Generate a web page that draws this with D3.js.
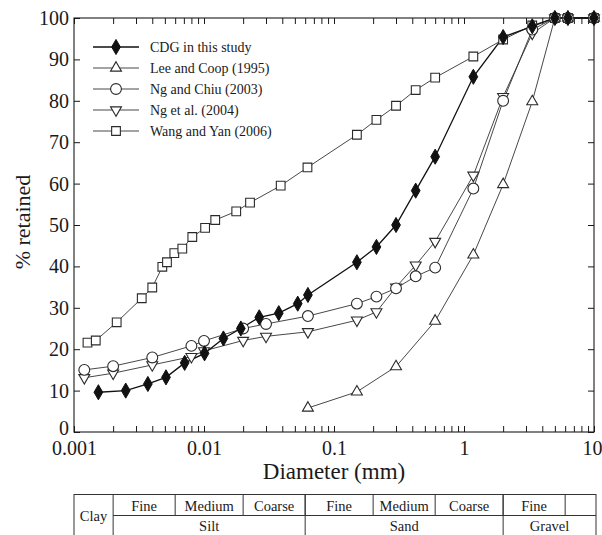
<!DOCTYPE html>
<html>
<head>
<meta charset="utf-8">
<script src="https://cdn.jsdelivr.net/npm/d3@7"></script>
<style>
  html, body { margin: 0; padding: 0; background: #fff; }
  svg { display: block; }
  svg text { font-family: "Liberation Serif", "DejaVu Serif", serif; }
</style>
</head>
<body>
<svg id="chart" width="602" height="535" font-family="Liberation Serif, serif"></svg>
<script>
// Particle size distribution curves (diameter in mm, % retained)
const cdgD = [0.00154, 0.0025, 0.0037, 0.0051, 0.0071, 0.0101, 0.0141, 0.0192, 0.0266, 0.0376, 0.0526, 0.063, 0.15, 0.212, 0.3, 0.425, 0.6, 1.18, 2, 3.35, 5, 6.3, 10];
const cdgV = [9.6, 10, 11.6, 13.2, 16.7, 19, 22.6, 25, 27.7, 28.7, 31, 33.1, 41, 44.7, 50, 58.3, 66.5, 85.8, 95.4, 98, 100, 100, 100];

const leeD = [0.063, 0.15, 0.3, 0.6, 1.18, 2, 3.35, 5, 6.3, 10];
const leeV = [5.8, 9.7, 15.8, 26.8, 42.8, 59.8, 79.8, 100, 100, 100];

const chiuD = [0.0012, 0.002, 0.004, 0.008, 0.01, 0.02, 0.03, 0.063, 0.15, 0.212, 0.3, 0.425, 0.6, 1.18, 2, 3.35, 5, 6.3, 10];
const chiuV = [15, 15.9, 18, 20.8, 22, 25, 26.1, 28, 31, 32.7, 34.7, 37.6, 39.7, 58.8, 80, 97.2, 100, 100, 100];

const ngD = [0.0012, 0.002, 0.004, 0.008, 0.01, 0.02, 0.03, 0.063, 0.15, 0.212, 0.3, 0.425, 0.6, 1.18, 2, 3.35, 5, 6.3, 10];
const ngV = [13.1, 14.2, 16.2, 18.2, 19.6, 22.1, 23.1, 24.2, 27, 29, 35, 40.3, 46, 62, 81, 96.3, 100, 100, 100];

const wangD = [0.00127, 0.00147, 0.00213, 0.00332, 0.004, 0.00478, 0.00519, 0.00591, 0.00681, 0.00813, 0.0102, 0.0122, 0.0177, 0.0226, 0.0389, 0.0625, 0.15, 0.212, 0.3, 0.425, 0.6, 1.18, 2, 3.35, 5, 6.3, 10];
const wangV = [21.6, 22.1, 26.5, 32.3, 34.9, 39.9, 41, 43.2, 44.3, 47.1, 49.3, 51.2, 53.3, 55.4, 59.5, 63.9, 71.8, 75.4, 78.8, 82.6, 85.6, 90.7, 94.8, 98.2, 100, 100, 100];

const seriesNames = ["CDG in this study", "Lee and Coop (1995)", "Ng and Chiu (2003)", "Ng et al. (2004)", "Wang and Yan (2006)"];
const seriesMarks = ["diamond", "triangleUp", "circle", "triangleDown", "square"];

// Axis ticks
const xMajorTicks = [0.001, 0.01, 0.1, 1, 10];
const xTickLabels = ["0.001", "0.01", "0.1", "1", "10"];
const yTicks = [0, 10, 20, 30, 40, 50, 60, 70, 80, 90, 100];

// Size classification table below the axis
const tableTopRow = [
  { label: "Fine", from: 0.002, to: 0.006 },
  { label: "Medium", from: 0.006, to: 0.02 },
  { label: "Coarse", from: 0.02, to: 0.06 },
  { label: "Fine", from: 0.06, to: 0.2 },
  { label: "Medium", from: 0.2, to: 0.6 },
  { label: "Coarse", from: 0.6, to: 2 },
  { label: "Fine", from: 2, to: 6 },
  { label: "", from: 6, to: 10 }
];
const tableBottomRow = [
  { label: "Silt", from: 0.002, to: 0.06 },
  { label: "Sand", from: 0.06, to: 2 },
  { label: "Gravel", from: 2, to: 10 }
];
const clayLabel = "Clay";

const series = seriesNames.map((name, i) => {
  const d = [cdgD, leeD, chiuD, ngD, wangD][i];
  const v = [cdgV, leeV, chiuV, ngV, wangV][i];
  return { name, mark: seriesMarks[i], points: d.map((dd, j) => ({ d: dd, v: v[j] })) };
});

const serif = "Liberation Serif, DejaVu Serif, serif";
const svg = d3.select("#chart");
const plotL = 74, plotR = 594, plotT = 18, plotB = 432;

const x = d3.scaleLog().domain([0.001, 10]).range([plotL, plotR]);
const y = d3.scaleLinear().domain([0, 100]).range([plotB, plotT]);

const ink = "#1a1a1a";

// minor + major x ticks
const xAllTicks = [];
for (let e = -3; e < 1; e++) {
  for (let m = 1; m < 10; m++) xAllTicks.push(m * Math.pow(10, e));
}
xAllTicks.push(10);

const fmtX = v => {
  const i = xMajorTicks.findIndex(t => Math.abs(t - v) / t < 1e-9);
  return i >= 0 ? xTickLabels[i] : "";
};

function styleAxis(g) {
  g.attr("font-family", serif);
  g.select(".domain").remove();
  g.selectAll(".tick line").attr("stroke", ink).attr("stroke-width", 1);
  g.selectAll("text").attr("fill", ink);
}

const xAxisG = svg.append("g")
  .attr("transform", `translate(0,${plotB})`)
  .call(d3.axisBottom(x).tickValues(xAllTicks).tickFormat(fmtX).tickSize(-6).tickPadding(9))
  .call(styleAxis);
xAxisG.selectAll("text").attr("font-size", 20);
// keep the last label inside the page edge
xAxisG.selectAll(".tick").filter(d => d === 10).select("text").attr("text-anchor", "end").attr("dx", 8);

svg.append("g")
  .attr("transform", `translate(0,${plotT})`)
  .call(d3.axisTop(x).tickValues(xAllTicks).tickFormat("").tickSize(-6))
  .call(styleAxis);

const yAxisG = svg.append("g")
  .attr("transform", `translate(${plotL},0)`)
  .call(d3.axisLeft(y).tickValues(yTicks).tickSize(-6).tickPadding(5))
  .call(styleAxis);
yAxisG.selectAll("text").attr("font-size", 20);
// the zero label sits a little above the corner, clear of the x labels
yAxisG.selectAll(".tick").filter(d => d === 0).select("text").attr("dy", "0.1em");

svg.append("g")
  .attr("transform", `translate(${plotR},0)`)
  .call(d3.axisRight(y).tickValues(yTicks).tickFormat("").tickSize(-6))
  .call(styleAxis);

// frame
svg.append("rect")
  .attr("x", plotL).attr("y", plotT)
  .attr("width", plotR - plotL).attr("height", plotB - plotT)
  .attr("fill", "none").attr("stroke", ink).attr("stroke-width", 1.1);

// axis titles
svg.append("text")
  .attr("x", (plotL + plotR) / 2).attr("y", 479)
  .attr("text-anchor", "middle").attr("font-size", 23).attr("fill", ink)
  .attr("font-family", serif)
  .text("Diameter (mm)");

svg.append("text")
  .attr("transform", `translate(30,${(plotT + plotB) / 2 - 3}) rotate(-90)`)
  .attr("text-anchor", "middle").attr("font-size", 22).attr("fill", ink)
  .attr("font-family", serif)
  .text("% retained");

// markers
const symbolGen = {
  diamond: d3.symbol().type(d3.symbolDiamond).size(66),
  triangleUp: d3.symbol().type(d3.symbolTriangle).size(52),
  triangleDown: d3.symbol().type(d3.symbolTriangle).size(52),
  square: d3.symbol().type(d3.symbolSquare).size(76),
  circle: d3.symbol().type(d3.symbolCircle).size(92)
};

function drawMarker(g, mark, cx, cy) {
  const filled = mark === "diamond";
  const rot = mark === "triangleDown" ? 180 : 0;
  g.append("path")
    .attr("d", symbolGen[mark]())
    .attr("transform", `translate(${cx},${cy}) rotate(${rot})`)
    .attr("fill", filled ? "#111" : "#fff")
    .attr("stroke", filled ? "#111" : "#2a2a2a")
    .attr("stroke-width", filled ? 1 : 1.1);
}

const line = d3.line().x(p => x(p.d)).y(p => y(p.v));

// lines first, then markers on top
const drawOrder = [4, 1, 3, 2, 0];
drawOrder.forEach(i => {
  const s = series[i];
  svg.append("path")
    .datum(s.points)
    .attr("d", line)
    .attr("fill", "none")
    .attr("stroke", i === 0 ? "#111" : "#333")
    .attr("stroke-width", i === 0 ? 1.3 : 0.9);
});
drawOrder.forEach(i => {
  const s = series[i];
  const g = svg.append("g");
  s.points.forEach(p => drawMarker(g, s.mark, x(p.d), y(p.v)));
});

// legend
const legend = svg.append("g").attr("font-family", serif);
series.forEach((s, i) => {
  const cy = 47 + i * 21;
  legend.append("line")
    .attr("x1", 93).attr("x2", 139).attr("y1", cy).attr("y2", cy)
    .attr("stroke", i === 0 ? "#111" : "#333").attr("stroke-width", i === 0 ? 1.3 : 0.9);
  drawMarker(legend, s.mark, 116, cy);
  legend.append("text")
    .attr("x", 150).attr("y", cy + 5)
    .attr("font-size", 14).attr("fill", ink)
    .text(s.name);
});

// size classification table
const tTop = 494.5, tMid = 515.5, tBot = 536;
const tLeft = plotL, tRight = plotR + 2;
const table = svg.append("g").attr("stroke", "#333").attr("stroke-width", 1);
table.append("rect")
  .attr("x", tLeft).attr("y", tTop)
  .attr("width", tRight - tLeft).attr("height", tBot - tTop)
  .attr("fill", "none");
table.append("line")
  .attr("x1", x(0.002)).attr("x2", tRight).attr("y1", tMid).attr("y2", tMid);
tableTopRow.forEach(c => {
  if (c.from !== 0.002) {
    table.append("line").attr("x1", x(c.from)).attr("x2", x(c.from)).attr("y1", tTop).attr("y2", tMid);
  }
});
tableBottomRow.forEach(c => {
  table.append("line").attr("x1", x(c.from)).attr("x2", x(c.from)).attr("y1", tTop).attr("y2", tBot);
});

const tText = svg.append("g").attr("font-size", 14.5).attr("fill", ink)
  .attr("font-family", serif).attr("text-anchor", "middle");
tableTopRow.forEach(c => {
  const x2 = c.to === 10 ? tRight : x(c.to);
  tText.append("text").attr("x", (x(c.from) + x2) / 2).attr("y", tMid - 5).text(c.label);
});
tableBottomRow.forEach(c => {
  const x2 = c.to === 10 ? tRight : x(c.to);
  tText.append("text").attr("x", (x(c.from) + x2) / 2).attr("y", tBot - 5.5).text(c.label);
});
tText.append("text").attr("x", (tLeft + x(0.002)) / 2).attr("y", tMid + 5).text(clayLabel);
</script>
</body>
</html>
